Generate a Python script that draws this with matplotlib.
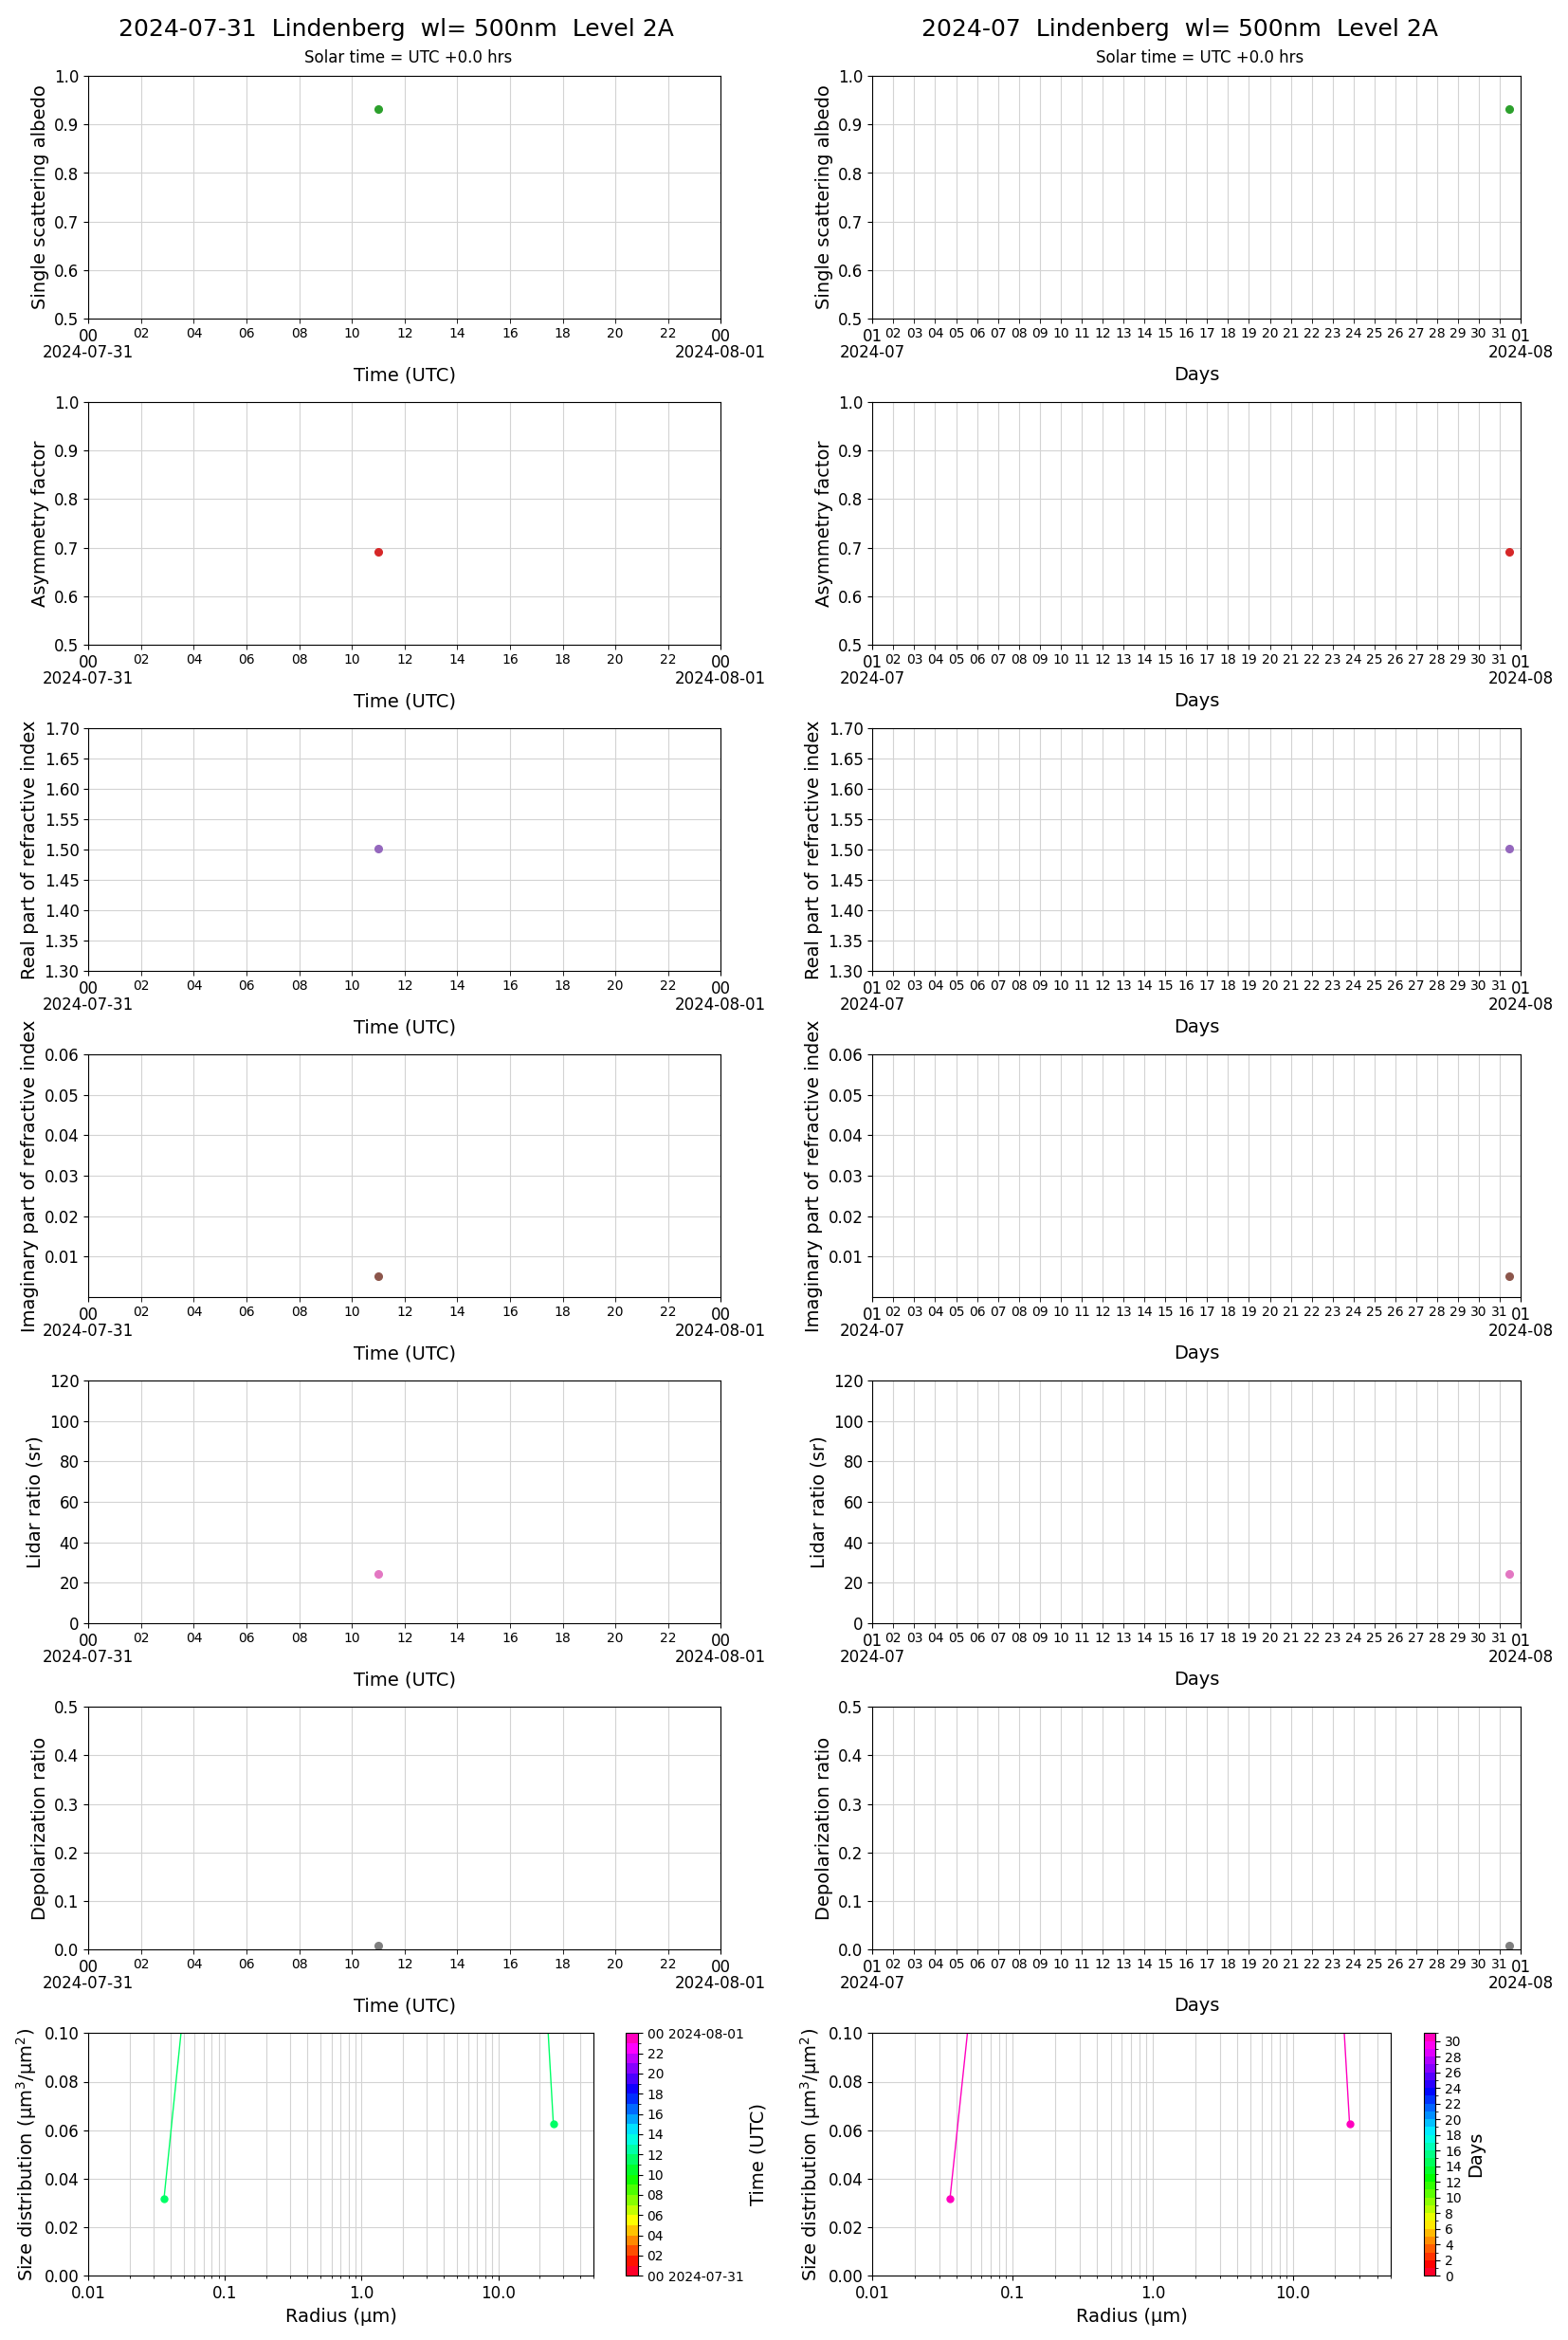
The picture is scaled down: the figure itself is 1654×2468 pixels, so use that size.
import datetime as dt
import numpy as np
import matplotlib
matplotlib.use("Agg")
import matplotlib.pyplot as plt
import matplotlib.dates as mdates
from matplotlib import cm, colors

# ---- data ----
station = "Lindenberg"
wavelength = 500
obs_time = [dt.datetime(2024, 7, 31, 11, 0)]

ssa = [0.933]
asym = [0.691]
n_real = [1.502]
n_imag = [0.0051]
lidar_ratio = [24.4]
depol = [0.007]

radius = [0.0357, 0.0488, 0.0668, 0.0913, 0.125, 0.171, 0.234, 0.320, 0.437, 0.598, 0.818,
          1.12, 1.53, 2.09, 2.86, 3.91, 5.35, 7.32, 10.0, 13.7, 18.7, 25.3]
size_dist = [0.0316, 0.106, 0.19, 0.28, 0.34, 0.33, 0.27, 0.20, 0.15, 0.13, 0.14,
             0.18, 0.25, 0.33, 0.40, 0.43, 0.42, 0.38, 0.33, 0.27, 0.193, 0.0628]
radius_ticks = [0.01, 0.1, 1.0, 10.0]
radius_ticklabels = ["0.01", "0.1", "1.0", "10.0"]

panels = [
    # (values, colour, ylabel, ylim, yticks, fmt)
    (ssa, "tab:green", "Single scattering albedo", (0.5, 1.0), np.arange(0.5, 1.01, 0.1), "%.1f"),
    (asym, "tab:red", "Asymmetry factor", (0.5, 1.0), np.arange(0.5, 1.01, 0.1), "%.1f"),
    (n_real, "tab:purple", "Real part of refractive index", (1.3, 1.7), np.arange(1.30, 1.701, 0.05), "%.2f"),
    (n_imag, "tab:brown", "Imaginary part of refractive index", (0.0, 0.06), np.arange(0.01, 0.0601, 0.01), "%.2f"),
    (lidar_ratio, "tab:pink", "Lidar ratio (sr)", (0, 120), np.arange(0, 121, 20), "%d"),
    (depol, "tab:gray", "Depolarization ratio", (0.0, 0.5), np.arange(0.0, 0.51, 0.1), "%.1f"),
]

W, H = 1654, 2468
fig = plt.figure(figsize=(W / 100, H / 100), dpi=100)


def add_ax(x0, top, w, h):
    return fig.add_axes([x0 / W, 1 - (top + h) / H, w / W, h / H])


col_x = [93.3, 920.3]
col_w = [667, 684]
row_top0, row_step, row_h = 80.3, 344, 255.5
grid_kw = dict(color="lightgray", linewidth=0.8)

day_start, day_end = dt.datetime(2024, 7, 31), dt.datetime(2024, 8, 1)
mon_start, mon_end = dt.datetime(2024, 7, 1), dt.datetime(2024, 8, 1)

for col in range(2):
    for row, (vals, c, ylab, ylim, yt, fmt) in enumerate(panels):
        ax = add_ax(col_x[col], row_top0 + row * row_step, col_w[col], row_h)
        ax.plot(obs_time, vals, "o", color=c, ms=5.5)
        ax.set_ylim(*ylim)
        ax.set_yticks(yt)
        ax.yaxis.set_major_formatter(matplotlib.ticker.FormatStrFormatter(fmt))
        ax.tick_params(axis="y", labelsize=12)
        ax.set_ylabel(ylab, fontsize=14)
        if col == 0:
            ax.set_xlim(day_start, day_end)
            ax.xaxis.set_major_locator(mdates.DayLocator())
            ax.xaxis.set_major_formatter(mdates.DateFormatter("%H\n%Y-%m-%d"))
            ax.xaxis.set_minor_locator(mdates.HourLocator(byhour=range(2, 24, 2)))
            ax.xaxis.set_minor_formatter(mdates.DateFormatter("%H"))
            ax.set_xlabel("Time (UTC)", fontsize=14)
        else:
            ax.set_xlim(mon_start, mon_end)
            ax.xaxis.set_major_locator(mdates.MonthLocator())
            ax.xaxis.set_major_formatter(mdates.DateFormatter("%d\n%Y-%m"))
            ax.xaxis.set_minor_locator(mdates.DayLocator(bymonthday=range(2, 32)))
            ax.xaxis.set_minor_formatter(mdates.DateFormatter("%d"))
            ax.set_xlabel("Days", fontsize=14)
        ax.tick_params(axis="x", which="major", labelsize=12)
        ax.tick_params(axis="x", which="minor", labelsize=10, length=3.5)
        for tk in ax.xaxis.get_major_ticks():
            tk.label1.set_linespacing(0.95)
        ax.grid(True, which="both", axis="x", **grid_kw)
        ax.grid(True, which="major", axis="y", **grid_kw)
        ax.set_axisbelow(True)

# titles
fig.text(417.6 / W, 1 - 38 / H, "2024-07-31  %s  wl= %dnm  Level 2A" % (station, wavelength),
         fontsize=18, ha="center", va="baseline")
fig.text(1245 / W, 1 - 38 / H, "2024-07  %s  wl= %dnm  Level 2A" % (station, wavelength),
         fontsize=18, ha="center", va="baseline")
fig.text(431 / W, 1 - 66 / H, "Solar time = UTC +0.0 hrs", fontsize=12, ha="center", va="baseline")
fig.text(1266 / W, 1 - 66 / H, "Solar time = UTC +0.0 hrs", fontsize=12, ha="center", va="baseline")

# size distributions with discrete colour bars
cmap = plt.get_cmap("gist_rainbow")
bottom_top = row_top0 + 6 * row_step
sd_setup = [
    # (axes x0, axes w, cbar x0, bounds, value, ticks, ticklabels, cbar label)
    (93.3, 533, 660.3, np.arange(0, 25), 11,
     np.arange(0, 25, 2),
     ["00 2024-07-31"] + ["%02d" % h for h in range(2, 24, 2)] + ["00 2024-08-01"],
     "Time (UTC)"),
    (920.3, 547, 1501.7, np.arange(0, 32), 30.46,
     np.arange(0, 31, 2), [str(d) for d in range(0, 31, 2)], "Days"),
]
for x0, w, cx0, bounds, val, cticks, cticklabels, clab in sd_setup:
    norm = colors.BoundaryNorm(bounds, cmap.N)
    ax = add_ax(x0, bottom_top, w, 256)
    lc = cmap(norm(val))
    ax.plot(radius, size_dist, "-o", color=lc, ms=5, lw=1)
    ax.set_xscale("log")
    ax.set_xlim(0.01, 50)
    ax.set_ylim(0, 0.1)
    ax.set_yticks(np.arange(0, 0.101, 0.02))
    ax.yaxis.set_major_formatter(matplotlib.ticker.FormatStrFormatter("%.2f"))
    ax.set_xticks(radius_ticks, labels=radius_ticklabels)
    ax.xaxis.set_minor_formatter(matplotlib.ticker.NullFormatter())
    ax.tick_params(labelsize=12)
    ax.set_xlabel("Radius (µm)", fontsize=14)
    ax.set_ylabel("Size distribution (µm$^3$/µm$^2$)", fontsize=14)
    ax.grid(True, which="both", axis="x", **grid_kw)
    ax.grid(True, which="major", axis="y", **grid_kw)
    ax.set_axisbelow(True)

    cax = add_ax(cx0, bottom_top, 12.6, 256)
    cb = fig.colorbar(cm.ScalarMappable(norm=norm, cmap=cmap), cax=cax)
    cb.set_ticks(cticks, labels=cticklabels)
    cb.ax.tick_params(labelsize=10)
    cb.set_label(clab, fontsize=14)

fig.savefig("out.png", dpi=100)
